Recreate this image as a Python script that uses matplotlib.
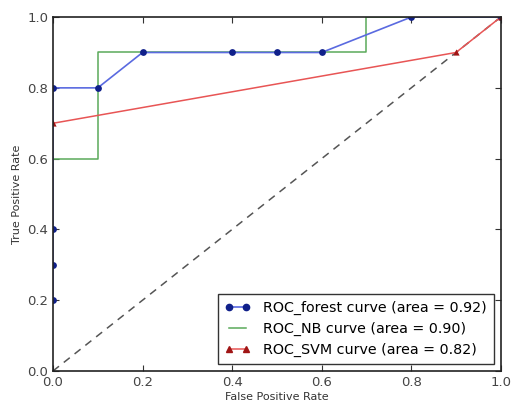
import matplotlib
matplotlib.use("Agg")
import matplotlib.pyplot as plt
from matplotlib.lines import Line2D

forest_fpr = [0.0, 0.0, 0.0, 0.0, 0.1, 0.2, 0.4, 0.5, 0.6, 0.8, 1.0]
forest_tpr = [0.2, 0.3, 0.4, 0.8, 0.8, 0.9, 0.9, 0.9, 0.9, 1.0, 1.0]
nb_fpr = [0.0, 0.1, 0.1, 0.7, 0.7, 1.0]
nb_tpr = [0.6, 0.6, 0.9, 0.9, 1.0, 1.0]
svm_fpr = [0.0, 0.9, 1.0]
svm_tpr = [0.7, 0.9, 1.0]
labels = ["ROC_forest curve (area = 0.92)",
          "ROC_NB curve (area = 0.90)",
          "ROC_SVM curve (area = 0.82)"]
ticks = [0.0, 0.2, 0.4, 0.6, 0.8, 1.0]

blue_line, blue_mk = "#5a6ae0", "#10208a"
green_line = "#5aaa5a"
red_line, red_mk = "#e85555", "#a01515"

fig = plt.figure(figsize=(5.11, 4.07), dpi=100)
ax = fig.add_axes([0.1037, 0.0885, 0.8763, 0.8695])

ax.plot([0, 1], [0, 1], linestyle=(0, (5, 4)), color="#555555", lw=1.1, zorder=1)
ax.plot(forest_fpr, forest_tpr, "-", color=blue_line, lw=1.2, zorder=3)
ax.scatter(forest_fpr, forest_tpr, s=24, color=blue_mk, marker="o", zorder=4,
           linewidths=0)
ax.plot(nb_fpr, nb_tpr, "-", color=green_line, lw=1.1, zorder=2)
ax.plot(svm_fpr, svm_tpr, "-", color=red_line, lw=1.1, zorder=2)
ax.scatter(svm_fpr, svm_tpr, s=20, color=red_mk, marker="^", zorder=4,
           linewidths=0)

ax.set_xlim(0, 1)
ax.set_ylim(0, 1)
ax.set_xticks(ticks)
ax.set_yticks(ticks)
ax.set_xticklabels([f"{t:.1f}" for t in ticks])
ax.set_yticklabels([f"{t:.1f}" for t in ticks])
ax.tick_params(direction="in", top=True, right=True, labelsize=9.5,
               length=4, colors="#333333", labelcolor="#444444")
for s in ax.spines.values():
    s.set_color("#222222")
    s.set_linewidth(1.2)
    s.set_zorder(5)
ax.set_xlabel("False Positive Rate", fontsize=8, color="#333333", labelpad=2)
ax.set_ylabel("True Positive Rate", fontsize=8, color="#333333", labelpad=4)

handles = [
    Line2D([], [], color=blue_line, lw=1.2, marker="o", markersize=4.5,
           markerfacecolor=blue_mk, markeredgecolor=blue_mk),
    Line2D([], [], color=green_line, lw=1.1),
    Line2D([], [], color=red_line, lw=1.1, marker="^", markersize=4.5,
           markerfacecolor=red_mk, markeredgecolor=red_mk),
]
leg = ax.legend(handles, labels, loc="lower right", fontsize=10.3, numpoints=2,
                handlelength=1.8, handletextpad=0.9, fancybox=False,
                framealpha=1, borderaxespad=0.5, labelspacing=0.5,
                borderpad=0.45)
leg.get_frame().set_edgecolor("#333333")
leg.get_frame().set_linewidth(1.0)
leg.set_zorder(6)

fig.savefig("out.png", dpi=100, facecolor="white")
